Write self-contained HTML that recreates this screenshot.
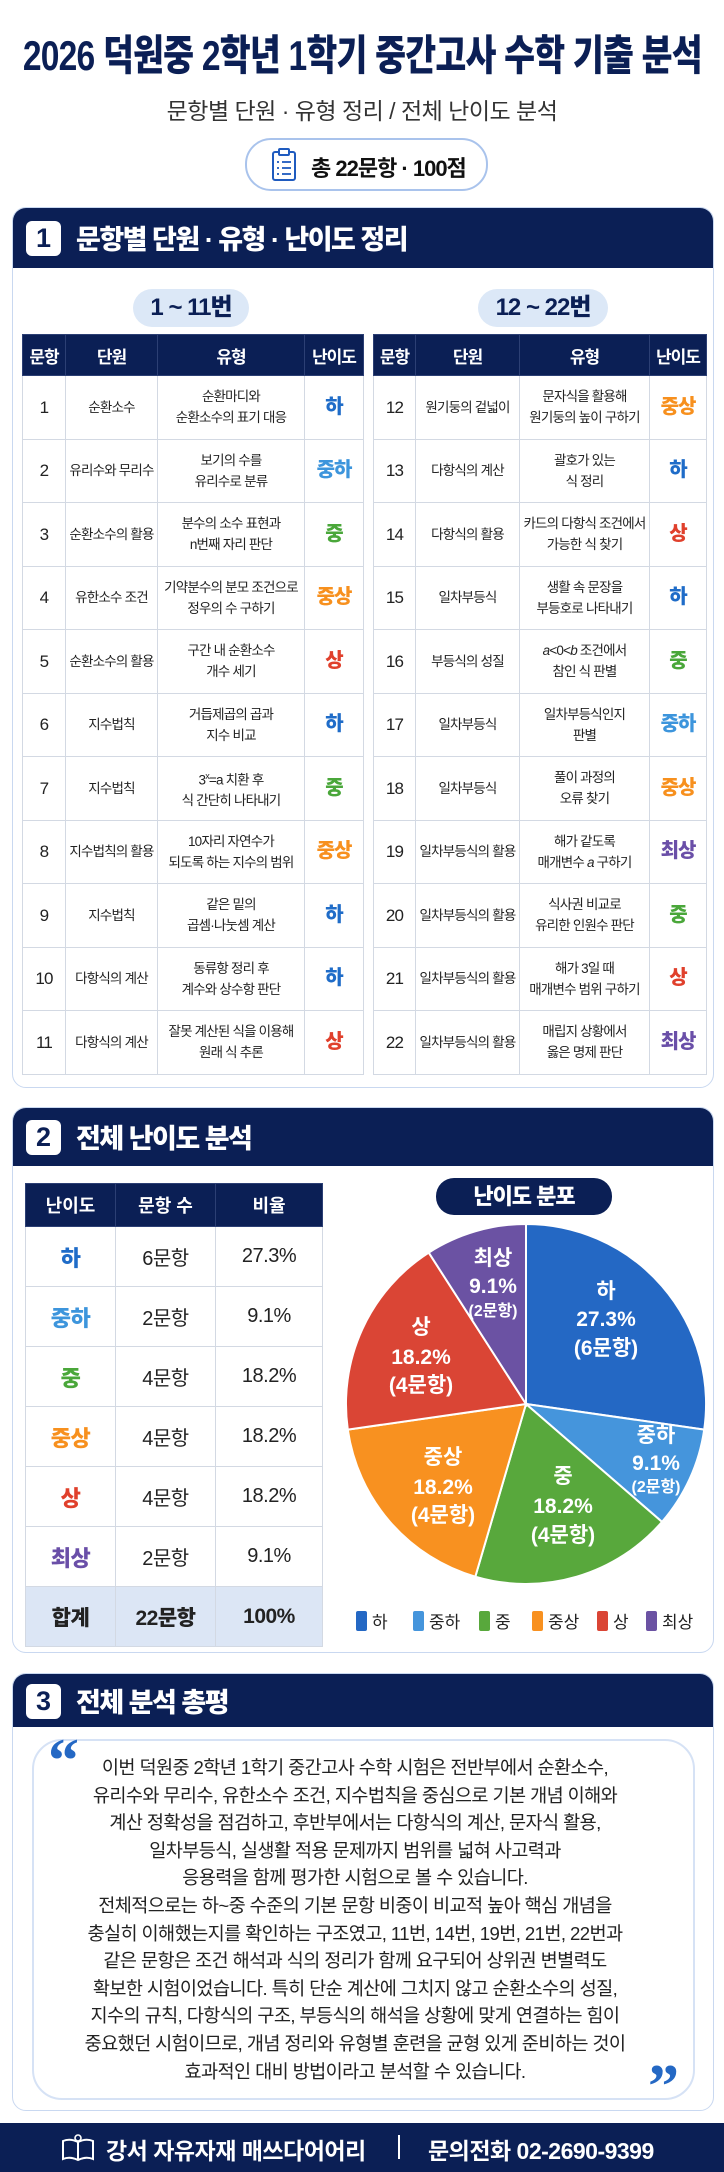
<!DOCTYPE html>
<html><head><meta charset="utf-8">
<style>
*{margin:0;padding:0;box-sizing:border-box}
body{width:724px;height:2172px;background:#fff;position:relative;overflow:hidden;font-family:"Liberation Sans","Noto Sans CJK KR",sans-serif;color:#222}
.abs{position:absolute}
.title{left:-300px;top:22px;width:1324px;text-align:center;font-size:42px;font-weight:900;color:#0b1f55;white-space:nowrap}
.title span{display:inline-block;transform:scaleX(.8);letter-spacing:-1px}
.sub{left:0;top:92px;width:724px;text-align:center;font-size:23px;color:#333;letter-spacing:-.5px}
.badge{left:245px;top:138px;width:243px;height:53px;border:2px solid #a9c3ec;border-radius:26px;font-size:22px;font-weight:700;color:#111;letter-spacing:-1px}
.card{left:12px;width:702px;border:1.5px solid #c9d8f0;border-radius:14px;overflow:hidden;background:#fff}
.hd{position:absolute;left:0;top:0;width:100%;background:#0b1f55}
.num{position:absolute;left:13px;width:35px;height:35px;background:#fff;border-radius:6px;color:#0b1f55;font-size:27px;font-weight:900;text-align:center;line-height:35px}
.ht{position:absolute;left:63px;color:#fff;font-size:27px;font-weight:900;letter-spacing:-1.5px;white-space:nowrap}
.pill{background:#dce8f7;border-radius:20px;text-align:center;font-size:24px;font-weight:900;color:#0b1f55;letter-spacing:-1px;line-height:38px;height:38px}
table{border-collapse:collapse;table-layout:fixed;position:absolute}
td,th{border:1.5px solid #d3d9e3;text-align:center;vertical-align:middle;padding:0}
th{background:#0b1f55;color:#fff;font-weight:700;border-color:#2c3f74}
.t1 th{height:41px;font-size:17px;letter-spacing:-1px}
.t1 td{height:63.5px;font-size:13.5px;letter-spacing:-.8px;line-height:21px;color:#222}
.t1 td.n{font-size:17px}
.t1 td.d{font-size:20px;font-weight:900;letter-spacing:-1px}
td.c1{color:#1f6cc8!important}td.c2{color:#3d95dc!important}td.c3{color:#4aa73a!important}td.c4{color:#f7901e!important}td.c5{color:#e0402c!important}td.c6{color:#6a4fa8!important}
.t2 th{height:43px;font-size:18px}
.t2 td{height:60px;font-size:20px;letter-spacing:-.5px}
.t2 td.d{font-size:22px;font-weight:900}
.t2 tr.sum td{background:#dce6f5;font-weight:900;font-size:21px}
.quote{left:32px;top:1739px;width:663px;height:361px;border:2px solid #d6e2f5;border-radius:30px}
.qt{left:30px;top:1754px;width:650px;text-align:center;font-size:18.6px;line-height:27.6px;letter-spacing:-.6px;color:#222;white-space:nowrap}
.foot{left:0;top:2123px;width:724px;height:49px;background:#0b1f55;color:#fff;font-size:23px;font-weight:700;letter-spacing:-.5px}
</style></head><body>

<div class="abs title"><span>2026 덕원중 2학년 1학기 중간고사 수학 기출 분석</span></div>
<div class="abs sub">문항별 단원 · 유형 정리 / 전체 난이도 분석</div>
<div class="abs badge">
<svg class="abs" style="left:24px;top:8px" width="26" height="34" viewBox="0 0 26 34"><rect x="2" y="4" width="22" height="28" rx="2" fill="none" stroke="#1f5bbf" stroke-width="2"/><rect x="8" y="1" width="10" height="6" rx="1" fill="#fff" stroke="#1f5bbf" stroke-width="2"/><g stroke="#1f5bbf" stroke-width="1.8"><line x1="6" y1="14" x2="8" y2="14"/><line x1="11" y1="14" x2="20" y2="14"/><line x1="6" y1="20" x2="8" y2="20"/><line x1="11" y1="20" x2="20" y2="20"/><line x1="6" y1="26" x2="8" y2="26"/><line x1="11" y1="26" x2="20" y2="26"/></g></svg>
<div class="abs" style="left:64px;top:11px;white-space:nowrap">총 22문항 · 100점</div>
</div>

<!-- Section 1 -->
<div class="abs card" style="top:207px;height:881px">
<div class="hd" style="height:60px"><div class="num" style="top:13px">1</div><div class="ht" style="top:10px">문항별 단원 · 유형 · 난이도 정리</div></div>
</div>
<div class="abs pill" style="left:133px;top:289px;width:116px">1 ~ 11번</div>
<div class="abs pill" style="left:478px;top:289px;width:130px">12 ~ 22번</div>

<table class="t1" style="left:22px;top:334px;width:341px">
<colgroup><col style="width:43px"><col style="width:92px"><col style="width:147px"><col style="width:59px"></colgroup>
<tr><th>문항</th><th>단원</th><th>유형</th><th>난이도</th></tr>
<tr><td class="n">1</td><td>순환소수</td><td>순환마디와<br>순환소수의 표기 대응</td><td class="d c1">하</td></tr>
<tr><td class="n">2</td><td>유리수와 무리수</td><td>보기의 수를<br>유리수로 분류</td><td class="d c2">중하</td></tr>
<tr><td class="n">3</td><td>순환소수의 활용</td><td>분수의 소수 표현과<br>n번째 자리 판단</td><td class="d c3">중</td></tr>
<tr><td class="n">4</td><td>유한소수 조건</td><td>기약분수의 분모 조건으로<br>정우의 수 구하기</td><td class="d c4">중상</td></tr>
<tr><td class="n">5</td><td>순환소수의 활용</td><td>구간 내 순환소수<br>개수 세기</td><td class="d c5">상</td></tr>
<tr><td class="n">6</td><td>지수법칙</td><td>거듭제곱의 곱과<br>지수 비교</td><td class="d c1">하</td></tr>
<tr><td class="n">7</td><td>지수법칙</td><td>3<sup style="font-size:9px">x</sup>=a 치환 후<br>식 간단히 나타내기</td><td class="d c3">중</td></tr>
<tr><td class="n">8</td><td>지수법칙의 활용</td><td>10자리 자연수가<br>되도록 하는 지수의 범위</td><td class="d c4">중상</td></tr>
<tr><td class="n">9</td><td>지수법칙</td><td>같은 밑의<br>곱셈·나눗셈 계산</td><td class="d c1">하</td></tr>
<tr><td class="n">10</td><td>다항식의 계산</td><td>동류항 정리 후<br>계수와 상수항 판단</td><td class="d c1">하</td></tr>
<tr><td class="n">11</td><td>다항식의 계산</td><td>잘못 계산된 식을 이용해<br>원래 식 추론</td><td class="d c5">상</td></tr>
</table>

<table class="t1" style="left:373px;top:334px;width:333px">
<colgroup><col style="width:42px"><col style="width:104px"><col style="width:130px"><col style="width:57px"></colgroup>
<tr><th>문항</th><th>단원</th><th>유형</th><th>난이도</th></tr>
<tr><td class="n">12</td><td>원기둥의 겉넓이</td><td>문자식을 활용해<br>원기둥의 높이 구하기</td><td class="d c4">중상</td></tr>
<tr><td class="n">13</td><td>다항식의 계산</td><td>괄호가 있는<br>식 정리</td><td class="d c1">하</td></tr>
<tr><td class="n">14</td><td>다항식의 활용</td><td>카드의 다항식 조건에서<br>가능한 식 찾기</td><td class="d c5">상</td></tr>
<tr><td class="n">15</td><td>일차부등식</td><td>생활 속 문장을<br>부등호로 나타내기</td><td class="d c1">하</td></tr>
<tr><td class="n">16</td><td>부등식의 성질</td><td><i>a</i>&lt;0&lt;<i>b</i> 조건에서<br>참인 식 판별</td><td class="d c3">중</td></tr>
<tr><td class="n">17</td><td>일차부등식</td><td>일차부등식인지<br>판별</td><td class="d c2">중하</td></tr>
<tr><td class="n">18</td><td>일차부등식</td><td>풀이 과정의<br>오류 찾기</td><td class="d c4">중상</td></tr>
<tr><td class="n">19</td><td>일차부등식의 활용</td><td>해가 같도록<br>매개변수 <i>a</i> 구하기</td><td class="d c6">최상</td></tr>
<tr><td class="n">20</td><td>일차부등식의 활용</td><td>식사권 비교로<br>유리한 인원수 판단</td><td class="d c3">중</td></tr>
<tr><td class="n">21</td><td>일차부등식의 활용</td><td>해가 3일 때<br>매개변수 범위 구하기</td><td class="d c5">상</td></tr>
<tr><td class="n">22</td><td>일차부등식의 활용</td><td>매립지 상황에서<br>옳은 명제 판단</td><td class="d c6">최상</td></tr>
</table>

<!-- Section 2 -->
<div class="abs card" style="top:1107px;height:546px">
<div class="hd" style="height:58px"><div class="num" style="top:12px">2</div><div class="ht" style="top:9px">전체 난이도 분석</div></div>
</div>
<table class="t2" style="left:25px;top:1183px;width:297px">
<colgroup><col style="width:90px"><col style="width:100px"><col style="width:107px"></colgroup>
<tr><th>난이도</th><th>문항 수</th><th>비율</th></tr>
<tr><td class="d c1">하</td><td>6문항</td><td>27.3%</td></tr>
<tr><td class="d c2">중하</td><td>2문항</td><td>9.1%</td></tr>
<tr><td class="d c3">중</td><td>4문항</td><td>18.2%</td></tr>
<tr><td class="d c4">중상</td><td>4문항</td><td>18.2%</td></tr>
<tr><td class="d c5">상</td><td>4문항</td><td>18.2%</td></tr>
<tr><td class="d c6">최상</td><td>2문항</td><td>9.1%</td></tr>
<tr class="sum"><td>합계</td><td>22문항</td><td>100%</td></tr>
</table>
<div class="abs" style="left:436px;top:1178px;width:176px;height:37px;background:#0b1f55;border-radius:18px;color:#fff;text-align:center;font-size:22px;font-weight:900;line-height:37px;letter-spacing:-1px">난이도 분포</div>

<svg class="abs" style="left:0;top:0" width="724" height="2172" viewBox="0 0 724 2172">
<g stroke="#fff" stroke-width="2">
<path d="M526 1404 L526 1224 A180 180 0 0 1 704.2 1429.6 Z" fill="#2468c4"/>
<path d="M526 1404 L704.2 1429.6 A180 180 0 0 1 662 1521.9 Z" fill="#4595dc"/>
<path d="M526 1404 L662 1521.9 A180 180 0 0 1 475.3 1576.7 Z" fill="#58a83c"/>
<path d="M526 1404 L475.3 1576.7 A180 180 0 0 1 347.8 1429.6 Z" fill="#f89120"/>
<path d="M526 1404 L347.8 1429.6 A180 180 0 0 1 428.7 1252.6 Z" fill="#da4535"/>
<path d="M526 1404 L428.7 1252.6 A180 180 0 0 1 526 1224 Z" fill="#6b52a3"/>
</g>
<g fill="#fff" font-family="Liberation Sans, Noto Sans CJK KR, sans-serif" font-weight="700" text-anchor="middle" font-size="21">
<text x="606" y="1298">하</text><text x="606" y="1326">27.3%</text><text x="606" y="1355">(6문항)</text>
<text x="656" y="1442">중하</text><text x="656" y="1470">9.1%</text><text x="656" y="1492" font-size="16">(2문항)</text>
<text x="563" y="1483">중</text><text x="563" y="1513">18.2%</text><text x="563" y="1542">(4문항)</text>
<text x="443" y="1464">중상</text><text x="443" y="1494">18.2%</text><text x="443" y="1522">(4문항)</text>
<text x="421" y="1334">상</text><text x="421" y="1364">18.2%</text><text x="421" y="1392">(4문항)</text>
<text x="493" y="1265">최상</text><text x="493" y="1293">9.1%</text><text x="493" y="1316" font-size="16">(2문항)</text>
</g>
<g font-family="Liberation Sans, Noto Sans CJK KR, sans-serif" font-size="17" fill="#222">
<rect x="356" y="1611" width="11" height="20" rx="2" fill="#2468c4"/><text x="372" y="1628">하</text>
<rect x="413" y="1611" width="11" height="20" rx="2" fill="#4595dc"/><text x="429" y="1628">중하</text>
<rect x="479" y="1611" width="11" height="20" rx="2" fill="#58a83c"/><text x="495" y="1628">중</text>
<rect x="532" y="1611" width="11" height="20" rx="2" fill="#f89120"/><text x="548" y="1628">중상</text>
<rect x="597" y="1611" width="11" height="20" rx="2" fill="#da4535"/><text x="613" y="1628">상</text>
<rect x="646" y="1611" width="11" height="20" rx="2" fill="#6b52a3"/><text x="662" y="1628">최상</text>
</g>
</svg>

<!-- Section 3 -->
<div class="abs card" style="top:1673px;height:438px">
<div class="hd" style="height:53px"><div class="num" style="top:10px">3</div><div class="ht" style="top:7px">전체 분석 총평</div></div>
</div>
<div class="abs quote"></div>
<div class="abs" style="left:48px;top:1730px;font-size:62px;font-weight:900;color:#2468c4;font-family:'Liberation Serif',serif;line-height:1">“</div>
<div class="abs" style="left:648px;top:2056px;font-size:62px;font-weight:900;color:#2468c4;font-family:'Liberation Serif',serif;line-height:1">”</div>
<div class="abs qt">이번 덕원중 2학년 1학기 중간고사 수학 시험은 전반부에서 순환소수,<br>유리수와 무리수, 유한소수 조건, 지수법칙을 중심으로 기본 개념 이해와<br>계산 정확성을 점검하고, 후반부에서는 다항식의 계산, 문자식 활용,<br>일차부등식, 실생활 적용 문제까지 범위를 넓혀 사고력과<br>응용력을 함께 평가한 시험으로 볼 수 있습니다.<br>전체적으로는 하~중 수준의 기본 문항 비중이 비교적 높아 핵심 개념을<br>충실히 이해했는지를 확인하는 구조였고, 11번, 14번, 19번, 21번, 22번과<br>같은 문항은 조건 해석과 식의 정리가 함께 요구되어 상위권 변별력도<br>확보한 시험이었습니다. 특히 단순 계산에 그치지 않고 순환소수의 성질,<br>지수의 규칙, 다항식의 구조, 부등식의 해석을 상황에 맞게 연결하는 힘이<br>중요했던 시험이므로, 개념 정리와 유형별 훈련을 균형 있게 준비하는 것이<br>효과적인 대비 방법이라고 분석할 수 있습니다.</div>

<div class="abs foot">
<svg class="abs" style="left:60px;top:10px" width="36" height="30" viewBox="0 0 36 30"><path d="M3 8 Q10 5 18 9 Q26 5 33 8 L33 26 Q26 23 18 27 Q10 23 3 26 Z" fill="none" stroke="#fff" stroke-width="2"/><line x1="18" y1="9" x2="18" y2="27" stroke="#fff" stroke-width="2"/><circle cx="18" cy="5" r="3" fill="none" stroke="#fff" stroke-width="1.6"/></svg>
<div class="abs" style="left:106px;top:9px;white-space:nowrap">강서 자유자재 매쓰다어어리</div>
<div class="abs" style="left:398px;top:12px;width:2px;height:24px;background:#fff"></div>
<div class="abs" style="left:428px;top:9px;white-space:nowrap">문의전화 02-2690-9399</div>
</div>
</body></html>
